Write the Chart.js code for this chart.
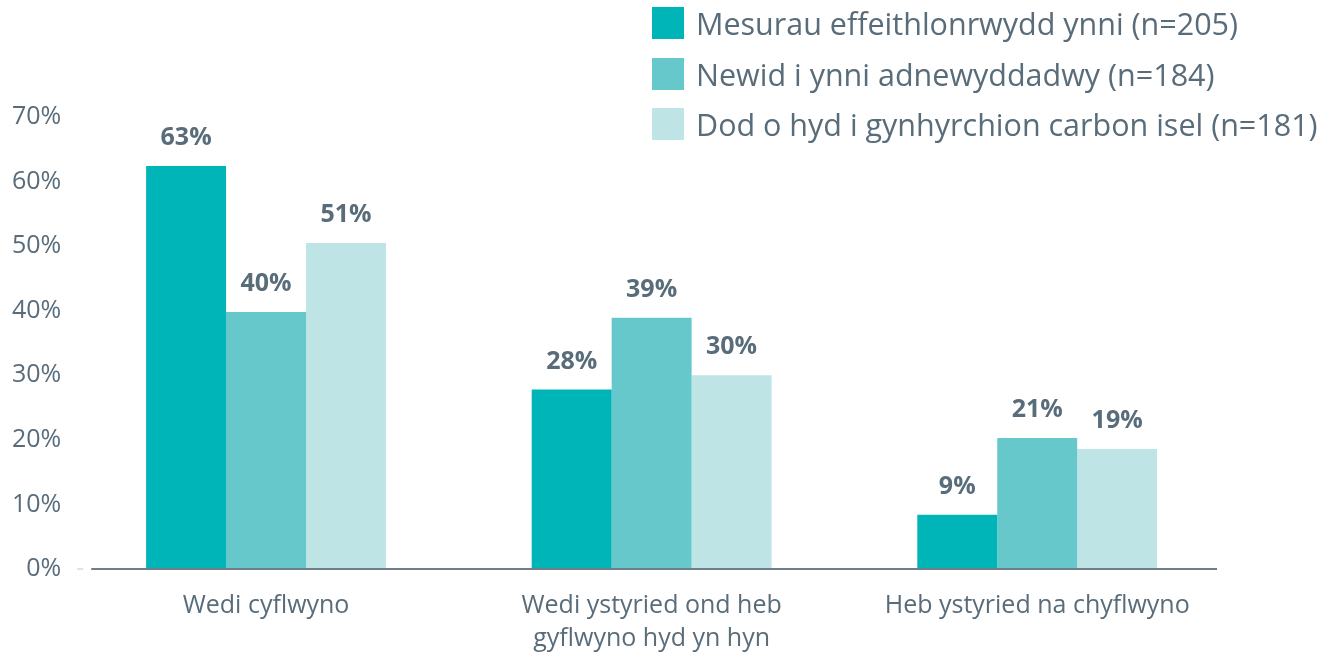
<!DOCTYPE html>
<html>
<head>
<meta charset="utf-8">
<script src="https://cdn.jsdelivr.net/npm/chart.js@4/dist/chart.umd.min.js"></script>
<style>
  html, body { margin: 0; padding: 0; background: #fff; }
  #wrap { position: relative; width: 1337px; height: 654px; }
  #legend { position: absolute; left: 652px; top: -2px; font-family: "Open Sans", sans-serif; font-size: 30.5px; color: #596C7A; }
  #legend div { display: flex; align-items: center; height: 50.5px; white-space: nowrap; }
  #legend span.box { display: inline-block; width: 32px; height: 32px; margin-right: 12px; }
</style>
</head>
<body>
<div id="wrap">
  <canvas id="chart" width="1337" height="654"></canvas>
  <div id="legend"></div>
</div>
<script>
// datos
const categories = ['Wedi cyflwyno', ['Wedi ystyried ond heb', 'gyflwyno hyd yn hyn'], 'Heb ystyried na chyflwyno'];
const seriesNames = [
    'Mesurau effeithlonrwydd ynni (n=205)',
    'Newid i ynni adnewyddadwy (n=184)',
    'Dod o hyd i gynhyrchion carbon isel (n=181)'
];
const effeithlonrwydd = [62.4, 27.8, 8.4];
const adnewyddadwy = [39.8, 38.9, 20.3];
const carbonIsel = [50.5, 30.0, 18.6];
const labelsEffeithlonrwydd = ['63%', '28%', '9%'];
const labelsAdnewyddadwy = ['40%', '39%', '21%'];
const labelsCarbonIsel = ['51%', '30%', '19%'];
const yTicks = [0, 10, 20, 30, 40, 50, 60, 70];

const colors = ['#00B5B8', '#66C8CA', '#BEE4E5'];
const textColor = '#596C7A';
const font = '"Open Sans", sans-serif';

const series = [effeithlonrwydd, adnewyddadwy, carbonIsel];
const valueLabels = [labelsEffeithlonrwydd, labelsAdnewyddadwy, labelsCarbonIsel];

// etiquetas encima de las barras + línea del eje
const barLabels = {
    id: 'barLabels',
    afterDatasetsDraw(chart) {
        const ctx = chart.ctx;
        const area = chart.chartArea;
        const y0 = chart.scales.y.getPixelForValue(0);
        ctx.save();
        // línea base (algo más corta que el área, como en el original)
        ctx.strokeStyle = '#6E7F8B';
        ctx.lineWidth = 2;
        ctx.beginPath();
        ctx.moveTo(area.left + 18, y0);
        ctx.lineTo(area.right - 13, y0);
        ctx.stroke();
        // pequeña marca del 0%
        ctx.strokeStyle = '#D3D9DD';
        ctx.lineWidth = 1.5;
        ctx.beginPath();
        ctx.moveTo(area.left + 4, y0);
        ctx.lineTo(area.left + 10, y0);
        ctx.stroke();

        ctx.font = 'bold 25px ' + font;
        ctx.fillStyle = textColor;
        ctx.textAlign = 'center';
        ctx.textBaseline = 'middle';
        chart.data.datasets.forEach((ds, i) => {
            chart.getDatasetMeta(i).data.forEach((bar, j) => {
                ctx.fillText(valueLabels[i][j], bar.x, bar.y - 28);
            });
        });
        ctx.restore();
    }
};

new Chart(document.getElementById('chart'), {
    type: 'bar',
    data: {
        labels: categories,
        datasets: series.map((vals, i) => ({
            label: seriesNames[i],
            data: vals,
            backgroundColor: colors[i],
            borderWidth: 0,
            categoryPercentage: 0.622,
            barPercentage: 1
        }))
    },
    options: {
        responsive: false,
        animation: false,
        layout: { padding: { left: 0, right: 107, top: 117, bottom: -21 } },
        plugins: {
            legend: { display: false },
            tooltip: { enabled: false }
        },
        scales: {
            x: {
                grid: { display: false, drawTicks: false },
                border: { display: false },
                ticks: { color: textColor, font: { family: font, size: 25, lineHeight: 1.32 }, padding: 20, maxRotation: 0 }
            },
            y: {
                min: 0,
                max: 70,
                afterBuildTicks(axis) { axis.ticks = yTicks.map(v => ({ value: v })); },
                grid: { display: false, drawTicks: false },
                border: { display: false },
                ticks: { color: textColor, font: { family: font, size: 25 }, padding: 12, callback: v => v + '%' }
            }
        }
    },
    plugins: [barLabels]
});

// leyenda
const legend = document.getElementById('legend');
seriesNames.forEach((name, i) => {
    legend.innerHTML += `<div><span class="box" style="background:${colors[i]}"></span>${name}</div>`;
});
</script>
</body>
</html>
